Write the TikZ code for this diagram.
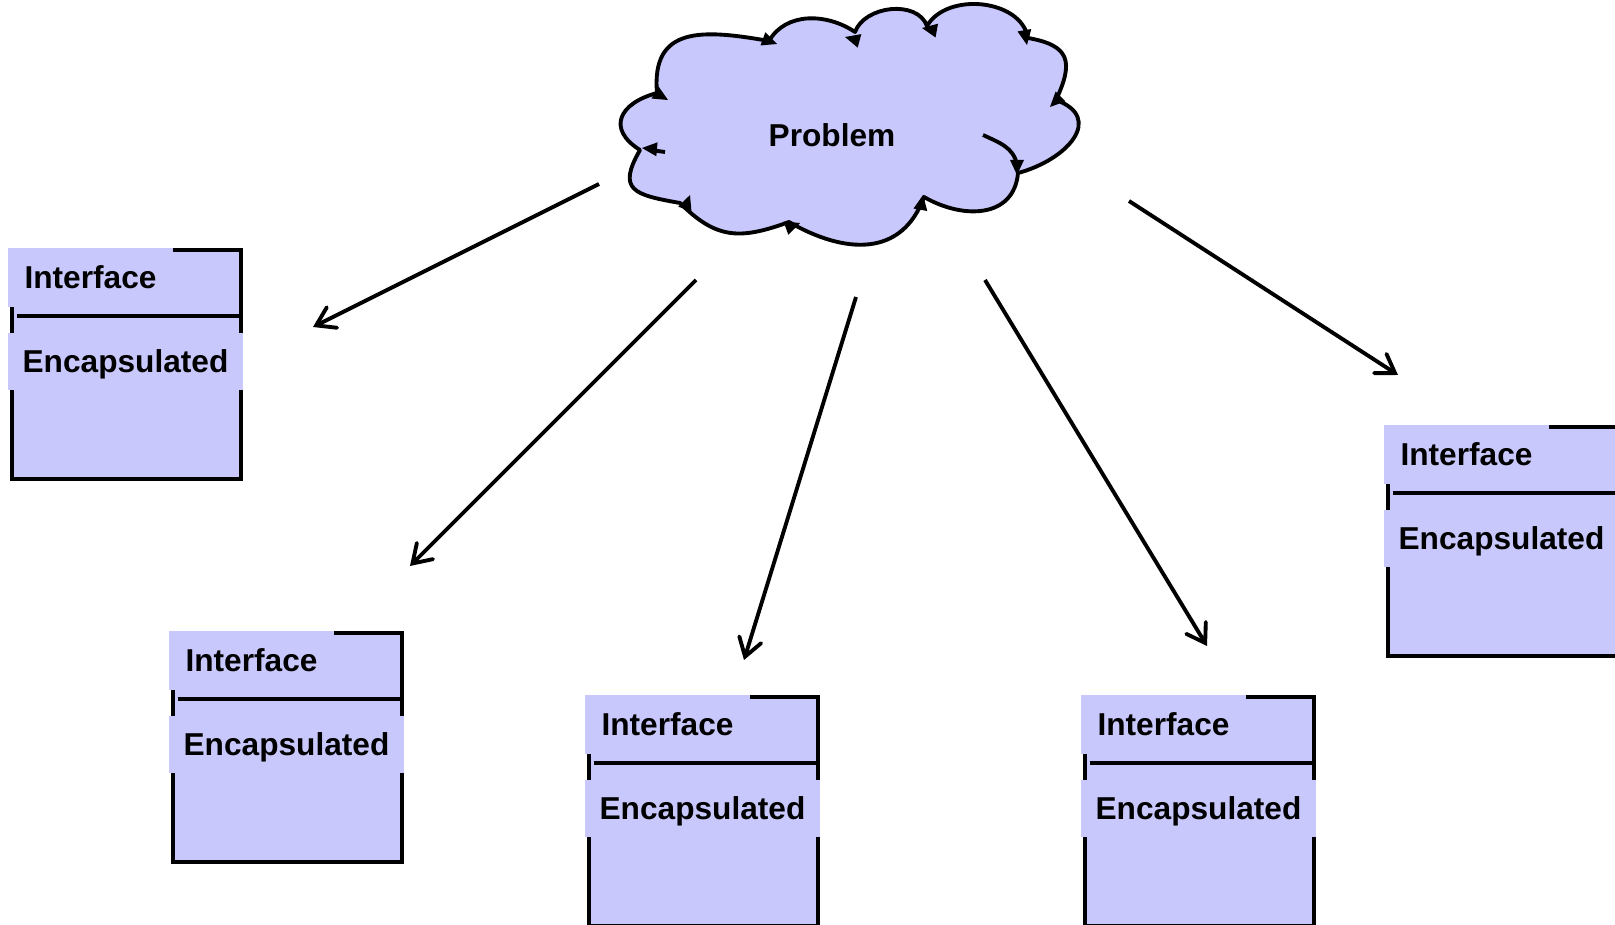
\documentclass[tikz,border=0pt]{standalone}
\usepackage{fontspec}
\setmainfont{Liberation Sans}
\usetikzlibrary{arrows.meta}
\definecolor{lavender}{RGB}{200,200,252}
\newcommand{\labelfont}{\fontsize{9}{11}\selectfont\bfseries}
\tikzset{
  classbox/.style={
    draw=black,
    line width=1.1pt,
    fill=lavender,
    minimum width=2.29cm,
    minimum height=2.29cm,
    inner sep=0pt,
    anchor=north west
  },
  divider/.style={
    draw=black,
    line width=1.1pt
  },
  iface/.style={
    fill=lavender,
    minimum width=1.65cm,
    minimum height=0.59cm,
    inner sep=0pt,
    text depth=0pt,
    font=\labelfont
  },
  encap/.style={
    fill=lavender,
    minimum width=2.35cm,
    minimum height=0.57cm,
    inner sep=0pt,
    text depth=0pt,
    font=\labelfont
  },
  cloud/.style={
    draw=black,
    fill=lavender,
    line width=1.1pt,
    line join=round
  },
  flow/.style={
    -{Straight Barb[length=5pt, width=6.5pt, line cap=round]},
    line width=1.1pt
  }
}
% small filled tip on the cloud outline: x, y, direction
\newcommand{\cloudtip}[3]{%
  \fill[shift={(#1,-#2)}, rotate=#3] (0,0) -- (-15,7) -- (-15,-7) -- cycle;}

\begin{document}
\begin{tikzpicture}[x=0.01cm, y=0.01cm]
    % canvas, 1 unit = 1 px
    \useasboundingbox (0,0) rectangle (1615,-925);

    % cloud outline, lobe by lobe
    \path[cloud] (657,-93)
      to[out=95, in=170, looseness=1.4] (769,-41)
      to[out=60, in=146, looseness=1.0] (855,-32)
      to[out=70, in=110, looseness=1.0] (927,-26)
      to[out=60, in=100, looseness=1.0] (1028,-38)
      to[out=-10, in=65, looseness=1.6] (1056,-100)
      to[out=-20, in=15, looseness=1.6] (1018,-173)
      to[out=-95, in=-30, looseness=1.2] (924,-197)
      to[out=-110, in=-30, looseness=1.2] (789,-222)
      to[out=-160, in=-45, looseness=1.2] (680,-203)
      to[out=170, in=-120, looseness=1.8] (640,-150)
      to[out=148, in=-165, looseness=1.7] (657,-93) -- cycle;

    % inner strokes of the cloud
    \draw[line width=1.1pt] (983,-135) to[out=-25, in=100] (1017,-165);
    \draw[line width=1.1pt] (665,-152) -- (650,-150);

    % tips along the outline
    \cloudtip{777}{44}{-20}
    \cloudtip{845}{37}{165}
    \cloudtip{922}{28}{170}
    \cloudtip{1027}{45}{-80}
    \cloudtip{1050}{107}{-135}
    \cloudtip{1017}{175}{-90}
    \cloudtip{923}{195}{80}
    \cloudtip{800}{223}{20}
    \cloudtip{690}{195}{70}
    \cloudtip{642}{148}{175}
    \cloudtip{668}{100}{-30}

    \node[font=\labelfont, text depth=0pt] (problem) at (832,-135) {Problem};

    % the five parts
    \foreach \n/\x/\y in {1/10/248, 2/171/631, 3/587/695, 4/1083/695, 5/1386/425} {
      \node[classbox] (box\n) at (\x,-\y) {};
      \draw[divider] (\x+7,-\y-68) -- (\x+229,-\y-68);
      \node[iface] (iface\n) at (\x+80.5,-\y-29.5) {Interface};
      \node[encap] (encap\n) at (\x+115.5,-\y-113.5) {Encapsulated};
    }

    % arrows from the problem
    \coordinate (s1) at (599,-184);  \coordinate (e1) at (313,-327);
    \coordinate (s2) at (696,-280);  \coordinate (e2) at (410,-566);
    \coordinate (s3) at (856,-297);  \coordinate (e3) at (744,-660);
    \coordinate (s4) at (985,-280);  \coordinate (e4) at (1207,-646);
    \coordinate (s5) at (1129,-201); \coordinate (e5) at (1398,-375);
    \foreach \i in {1,...,5}
      \draw[flow] (s\i) -- (e\i);

\end{tikzpicture}
\end{document}
